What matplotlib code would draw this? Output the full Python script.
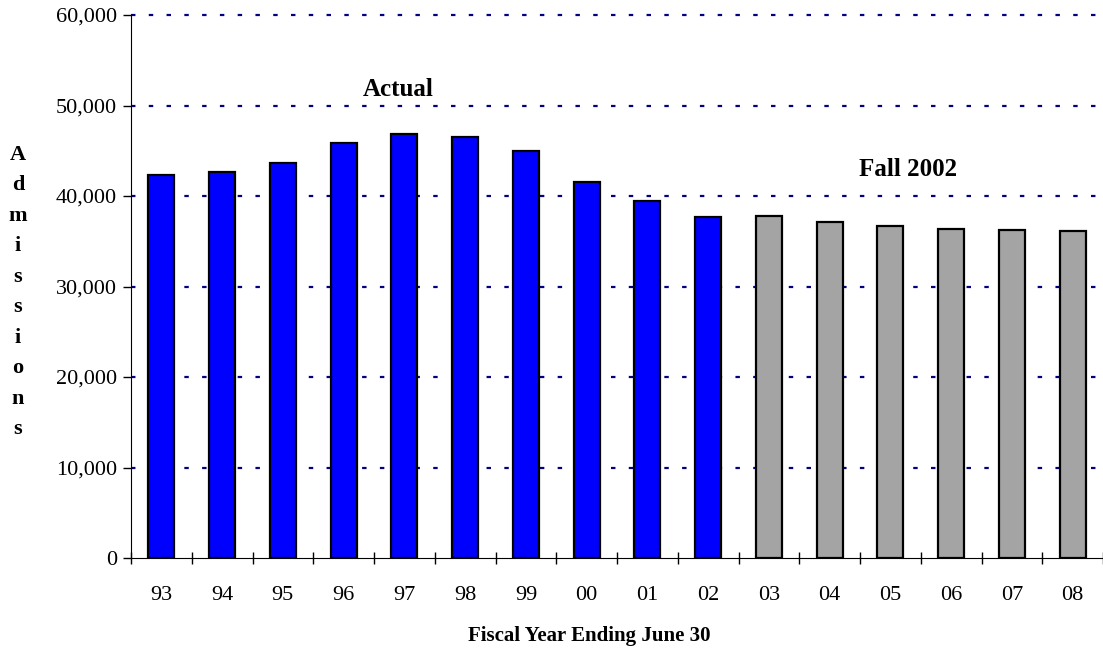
import matplotlib.pyplot as plt
import numpy as np

plt.rcParams['font.family'] = ['Liberation Serif', 'DejaVu Serif']

# fiscal years and admissions
years = ['93', '94', '95', '96', '97', '98', '99', '00', '01', '02',
         '03', '04', '05', '06', '07', '08']
actual = [42300, 42700, 43700, 45900, 46800, 46550, 45000, 41500, 39400, 37650]
projected = [37800, 37150, 36700, 36400, 36250, 36150]

fig = plt.figure(figsize=(11.03, 6.48), dpi=100)
ax = fig.add_axes([131 / 1103, 1 - 558 / 648, (1103 - 131) / 1103, (558 - 15) / 648])

x = np.arange(len(years))
n_act = len(actual)
ax.bar(x[:n_act], actual, width=0.43, color='#0000ff', edgecolor='black', linewidth=1.6, zorder=3)
ax.bar(x[n_act:], projected, width=0.43, color='#a4a4a4', edgecolor='black', linewidth=1.6, zorder=3)

ax.set_xlim(-0.5, len(years) - 0.5)
ax.set_ylim(0, 60000)
ax.set_yticks(np.arange(0, 60001, 10000))
ax.set_yticklabels(['{:,}'.format(v) for v in range(0, 60001, 10000)], fontsize=16)

# category labels centred, tick marks between categories
ax.set_xticks(np.arange(-0.5, len(years), 1))
ax.set_xticklabels([])
ax.set_xticks(x, minor=True)
ax.set_xticklabels(years, minor=True, fontsize=16)
ax.tick_params(axis='x', which='major', length=8, direction='inout', width=1)
ax.tick_params(axis='x', which='minor', length=0, pad=20)
ax.tick_params(axis='y', length=6, width=1, direction='out', pad=4)

for y in range(10000, 60001, 10000):
    ax.axhline(y, color='#000080', linestyle=(0, (2, 6)), linewidth=1.6, zorder=1, clip_on=False)

for s in ['top', 'right']:
    ax.spines[s].set_visible(False)

ax.text(3.9, 50500, 'Actual', fontsize=18, fontweight='bold', ha='center', va='bottom')
ax.text(12.29, 41700, 'Fall 2002', fontsize=18, fontweight='bold', ha='center', va='bottom')

ax.set_xlabel('Fiscal Year Ending June 30', fontsize=15, fontweight='bold', labelpad=14)
ax.xaxis.set_label_coords((589 - 131) / 972, -0.125)
fig.text(18 / 1103, 1 - 292 / 648, '\n'.join('Admissions'), fontsize=16, fontweight='bold',
         ha='center', va='center', linespacing=1.70)

fig.savefig('out.png', dpi=100)
